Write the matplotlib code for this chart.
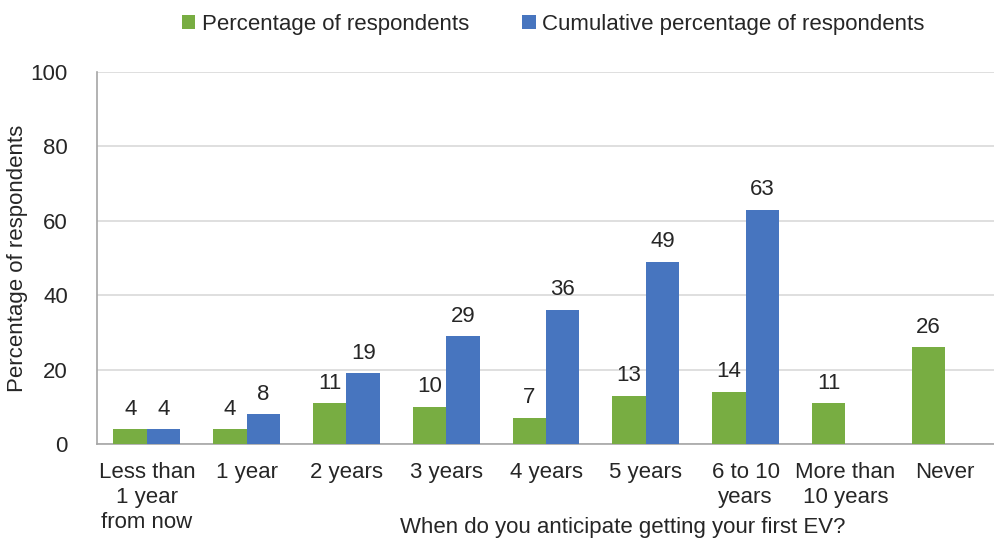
import numpy as np
import matplotlib.pyplot as plt

plt.rcParams['font.family'] = ['Liberation Sans', 'DejaVu Sans']

categories = ['Less than\n1 year\nfrom now', '1 year', '2 years', '3 years', '4 years',
              '5 years', '6 to 10\nyears', 'More than\n10 years', 'Never']
pct = [4, 4, 11, 10, 7, 13, 14, 11, 26]
cum_pct = [4, 8, 19, 29, 36, 49, 63, None, None]

green = '#78ad42'
blue = '#4775bf'
txt = '#262626'
fs = 16

fig = plt.figure(figsize=(9.95, 5.41), dpi=100)
ax = fig.add_axes([0.0975, 0.179, 0.9025, 0.688])

x = np.arange(len(categories))
w = 0.335

ax.bar(x - w/2, pct, width=w, color=green, label='Percentage of respondents', zorder=3)
for xi, v in zip(x, pct):
    ax.text(xi - w/2, v + 2.6, str(v), ha='center', va='bottom', fontsize=fs, color=txt)

cx = [xi for xi, v in zip(x, cum_pct) if v is not None]
cv = [v for v in cum_pct if v is not None]
ax.bar(np.array(cx) + w/2, cv, width=w, color=blue,
       label='Cumulative percentage of respondents', zorder=3)
for xi, v in zip(cx, cv):
    ax.text(xi + w/2, v + 2.6, str(v), ha='center', va='bottom', fontsize=fs, color=txt)

ax.set_xlim(-0.5, len(categories) - 0.5)
ax.set_ylim(0, 100)
ax.set_yticks(range(0, 101, 20))
ax.yaxis.grid(True, color='#d9d9d9', linewidth=1.2, zorder=0)
ax.set_xticks(x)
ax.set_xticklabels(categories, fontsize=fs, color=txt, linespacing=1.25)
ax.tick_params(axis='both', length=0, labelsize=fs, colors=txt)
ax.tick_params(axis='x', pad=13)
ax.tick_params(axis='y', pad=21)

for s in ['top', 'right']:
    ax.spines[s].set_visible(False)
for s in ['left', 'bottom']:
    ax.spines[s].set_color('#a6a6a6')
    ax.spines[s].set_linewidth(1.2)

ax.set_ylabel('Percentage of respondents', fontsize=fs, color=txt)
ax.yaxis.set_label_coords(-0.077, 0.5)
ax.set_xlabel('When do you anticipate getting your first EV?', fontsize=fs, color=txt)
ax.xaxis.set_label_coords(0.585, -0.195)

fig.legend(loc='upper center', bbox_to_anchor=(0.556, 1.012), ncol=2, frameon=False,
           fontsize=fs, handlelength=0.6, handleheight=0.6, handletextpad=0.3,
           columnspacing=2.4, labelcolor=txt)

fig.savefig('out.png', dpi=100)
